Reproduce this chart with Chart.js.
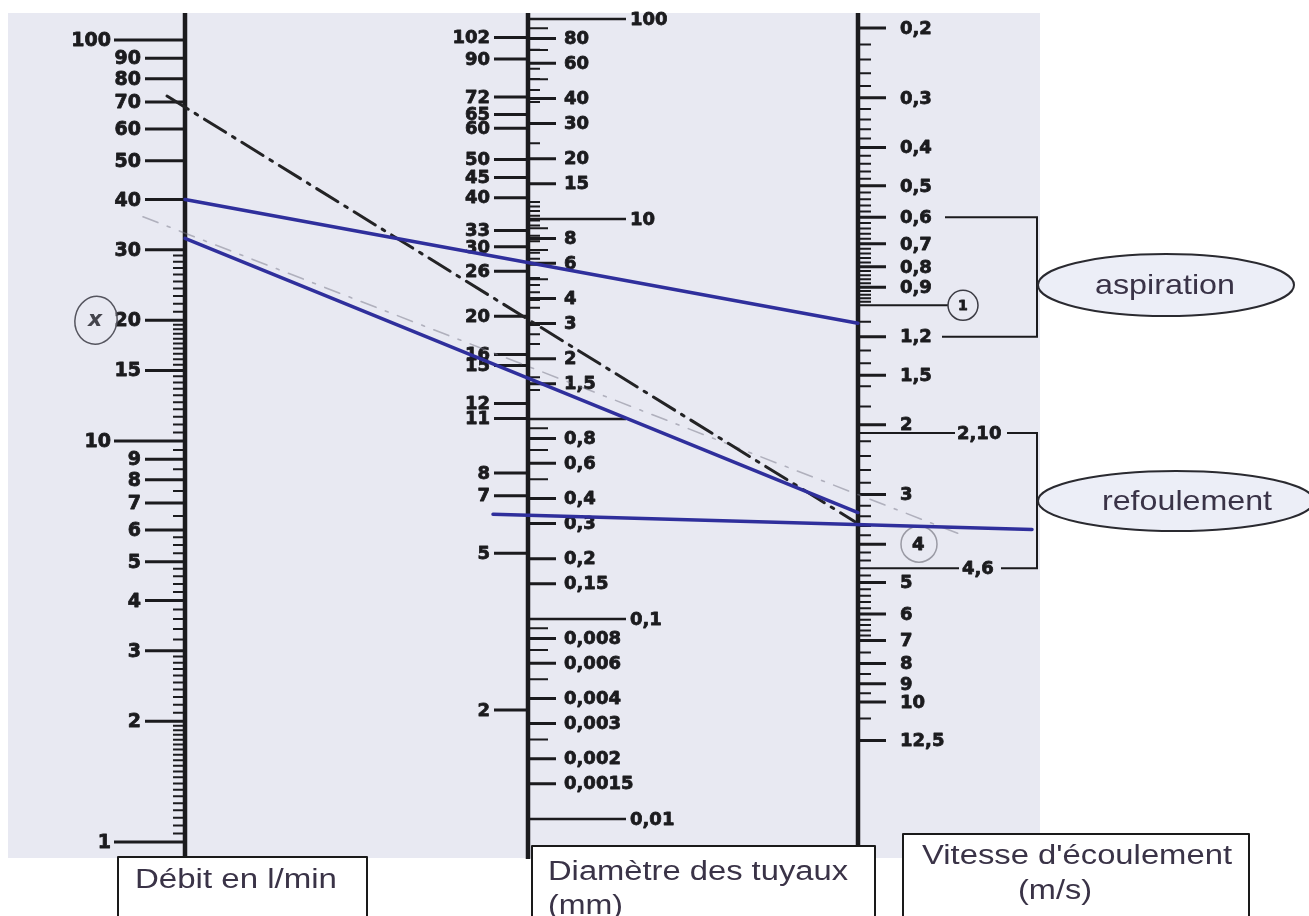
<!DOCTYPE html>
<html>
<head>
<meta charset="utf-8">
<title>Abaque - diamètre des tuyaux</title>
<script src="https://cdn.jsdelivr.net/npm/chart.js"></script>
<style>
  html, body { margin: 0; padding: 0; background: #fff; }
  canvas { display: block; }
</style>
</head>
<body>
<canvas id="abaque" width="1309" height="916"></canvas>
<script>
// Débit en l/min (colonne de gauche)
const debitValues = [100, 90, 80, 70, 60, 50, 40, 30, 20, 15, 10, 9, 8, 7, 6, 5, 4, 3, 2, 1];
const debitMajor = [100, 10, 1];
// Diamètre des tuyaux en mm (côté gauche de la colonne du milieu)
const diametreValues = [102, 90, 72, 65, 60, 50, 45, 40, 33, 30, 26, 20, 16, 15, 12, 11, 8, 7, 5, 2];
// Section (côté droit de la colonne du milieu), étiquettes telles qu'imprimées
const sectionValues = [100, 80, 60, 40, 30, 20, 15, 10, 8, 6, 4, 3, 2, 1.5, 1, 0.8, 0.6, 0.4, 0.3, 0.2, 0.15, 0.1, 0.08, 0.06, 0.04, 0.03, 0.02, 0.015, 0.01];
const sectionLabels = ['100', '80', '60', '40', '30', '20', '15', '10', '8', '6', '4', '3', '2', '1,5', '', '0,8', '0,6', '0,4', '0,3', '0,2', '0,15', '0,1', '0,008', '0,006', '0,004', '0,003', '0,002', '0,0015', '0,01'];
const sectionMajor = [100, 10, 1, 0.1, 0.01];
const sectionMinor = [90, 70, 50, 9, 7, 5, 0.9, 0.7, 0.5, 0.09, 0.07, 0.05, 0.025];
// Vitesse d'écoulement en m/s (colonne de droite)
const vitesseValues = [0.2, 0.3, 0.4, 0.5, 0.6, 0.7, 0.8, 0.9, 1, 1.2, 1.5, 2, 2.1, 3, 4, 4.6, 5, 6, 7, 8, 9, 10, 12.5];
const vitesseLabels = ['0,2', '0,3', '0,4', '0,5', '0,6', '0,7', '0,8', '0,9', '1', '1,2', '1,5', '2', '2,10', '3', '4', '4,6', '5', '6', '7', '8', '9', '10', '12,5'];
const aspiration = [0.6, 1.2];
const refoulement = [2.1, 4.6];

// tracés de lecture : [échelle, valeur] au départ et à l'arrivée
const traceAspiration = [['debit', 40], ['vitesse', 1.11]];
const traceRefoulement = [['debit', 32], ['vitesse', 3.33]];
const traceSection = [['section', 0.33], ['vitesse', 3.57]];
const traceMixte = [['debit', 68], ['vitesse', 3.55]];
const traceGris = [['debit', 33], ['vitesse', 3.0]];

// ---- mise en page ----
const W = 1309, H = 916;
const ink = '#1b1b1e';
const paper = '#e8e9f2';
const blue = '#2f2f9c';
const textInk = '#3a3347';
const colX = { debit: 185, milieu: 528, vitesse: 858 };
const columnOf = { debit: colX.debit, diametre: colX.milieu, section: colX.milieu, vitesse: colX.vitesse };
// deux repères (valeur, pixel) par échelle pour caler les axes log
const anchors = {
  debit: [[1, 842], [100, 40]],
  diametre: [[2, 719], [102, 38]],
  section: [[0.01, 819], [100, 19]],
  vitesse: [[0.2, 28], [10, 702]]
};

function fit(name) {
  const [[v1, y1], [v2, y2]] = anchors[name];
  const b = (y2 - y1) / (Math.log10(v2) - Math.log10(v1));
  return { a: y1 - b * Math.log10(v1), b };
}
function axisFor(name) {
  const { a, b } = fit(name);
  const top = -a / b, bottom = (H - a) / b;
  return {
    type: 'logarithmic', axis: 'y', display: false,
    min: Math.pow(10, Math.min(top, bottom)),
    max: Math.pow(10, Math.max(top, bottom)),
    reverse: b > 0
  };
}
function valueAt(name, y) {
  const { a, b } = fit(name);
  return Math.pow(10, (y - a) / b);
}
function graduation(from, to, step, skip) {
  const out = [];
  for (let v = from; v <= to + 1e-9; v += step) {
    const r = Math.round(v * 1000) / 1000;
    if (!skip.includes(r)) out.push(r);
  }
  return out;
}

const debitMinor = [].concat(
  graduation(1.05, 1.95, 0.05, []), graduation(2.1, 2.9, 0.1, []),
  [3.2, 3.4, 3.6, 3.8, 4.2, 4.4, 4.6, 4.8, 5.25, 5.5, 5.75, 6.5, 7.5, 8.5, 9.5],
  graduation(10.5, 19.5, 0.5, [15]), graduation(21, 29, 1, [])
);
const diametreMinor = [].concat(graduation(12, 40, 1, diametreValues), [95, 85, 80, 75, 70, 55]);
const vitesseMinor = [].concat(
  graduation(0.22, 0.98, 0.02, [0.3, 0.4, 0.5, 0.6, 0.7, 0.8, 0.9]),
  [1.1, 1.3, 1.4, 1.6, 1.8, 2.2, 2.4, 2.6, 2.8, 3.2, 3.4, 3.6, 3.8, 4.2, 4.4, 4.8],
  graduation(5.2, 6.8, 0.2, [6]), [7.5, 8.5, 9.5, 11]
);

function marks(values, yAxisID, x0, x1, width) {
  const data = [];
  values.forEach(v => data.push({ x: x0, y: v }, { x: x1, y: v }, { x: x1, y: null }));
  return { data, yAxisID, showLine: true, spanGaps: false, borderColor: ink, borderWidth: width, pointRadius: 0 };
}
function path(points, yAxisID, width) {
  return { data: points.map(p => ({ x: p[0], y: p[1] })), yAxisID, showLine: true, borderColor: ink, borderWidth: width, pointRadius: 0 };
}
function axisLine(name, x) {
  return path([[x, valueAt(name, 13)], [x, valueAt(name, 859)]], name, 4.5);
}

const datasets = [
  axisLine('debit', colX.debit),
  axisLine('section', colX.milieu),
  axisLine('vitesse', colX.vitesse),
  marks(debitValues.filter(v => !debitMajor.includes(v)), 'debit', 145, colX.debit, 3),
  marks(debitMajor, 'debit', 114, colX.debit, 3),
  marks(debitMinor, 'debit', 173, colX.debit, 2),
  marks(diametreValues, 'diametre', 494, colX.milieu, 3),
  marks(diametreMinor, 'diametre', 526, 540, 2),
  marks(sectionValues.filter(v => !sectionMajor.includes(v)), 'section', colX.milieu, 556, 3),
  marks(sectionMajor, 'section', colX.milieu, 626, 2.5),
  marks(sectionMinor, 'section', colX.milieu, 548, 2),
  marks(vitesseValues.filter(v => ![1, 2.1, 4.6].includes(v)), 'vitesse', colX.vitesse, 886, 3),
  marks(vitesseMinor, 'vitesse', colX.vitesse, 871, 2),
  marks([1], 'vitesse', colX.vitesse, 948, 2),
  marks([2.1], 'vitesse', colX.vitesse, 955, 2),
  marks([4.6], 'vitesse', colX.vitesse, 959, 2),
  path([[945, aspiration[0]], [1037, aspiration[0]], [1037, aspiration[1]], [942, aspiration[1]]], 'vitesse', 2),
  path([[1007, refoulement[0]], [1037, refoulement[0]], [1037, refoulement[1]], [1001, refoulement[1]]], 'vitesse', 2)
];

const traceStyles = [
  { trace: traceGris, color: 'rgba(120,120,135,0.5)', width: 1.6, dash: [16, 10, 3, 10], extend: [42, 107] },
  { trace: traceMixte, color: '#232325', width: 3, dash: [25, 8, 3, 8], extend: [18, -3] },
  { trace: traceAspiration, color: blue, width: 3.5, dash: [], extend: [0, 0] },
  { trace: traceRefoulement, color: blue, width: 3.5, dash: [], extend: [0, 0] },
  { trace: traceSection, color: blue, width: 3.5, dash: [], extend: [35, 174] }
];

function stretchText(ctx, text, x, y, width) {
  const w = ctx.measureText(text).width;
  ctx.save();
  ctx.translate(x, y);
  ctx.scale(width / w, 1);
  ctx.fillText(text, 0, 0);
  ctx.restore();
}
function heavyText(ctx, text, x, y) {
  ctx.strokeText(text, x, y);
  ctx.fillText(text, x, y);
}

const decor = {
  id: 'decor',
  beforeDraw(chart) {
    const { ctx } = chart;
    ctx.save();
    ctx.fillStyle = '#ffffff';
    ctx.fillRect(0, 0, W, H);
    ctx.fillStyle = paper;
    ctx.fillRect(8, 13, 1032, 845);
    ctx.restore();
  },
  afterDatasetsDraw(chart) {
    const { ctx, scales } = chart;
    const xs = scales.x;
    ctx.save();
    ctx.fillStyle = ink;
    ctx.strokeStyle = ink;
    ctx.lineWidth = 0.8;
    ctx.lineJoin = 'round';
    ctx.textBaseline = 'middle';
    ctx.font = 'bold 19px "DejaVu Sans"';

    // graduations chiffrées
    ctx.textAlign = 'right';
    debitValues.forEach(v => {
      heavyText(ctx, String(v), debitMajor.includes(v) ? 111 : 141, scales.debit.getPixelForValue(v) + 1);
    });
    ctx.font = 'bold 18px "DejaVu Sans"';
    diametreValues.forEach(v => heavyText(ctx, String(v), 490, scales.diametre.getPixelForValue(v) + 1));
    ctx.textAlign = 'left';
    sectionValues.forEach((v, i) => {
      if (!sectionLabels[i]) return;
      const x = sectionMajor.includes(v) ? 630 : 564;
      heavyText(ctx, sectionLabels[i], x, scales.section.getPixelForValue(v) + 1);
    });
    const vitesseLabelX = { 1: 958, 2.1: 957, 4.6: 962, 4: 912 };
    vitesseValues.forEach((v, i) => {
      const x = vitesseLabelX[v] || 900;
      ctx.font = v === 1 ? 'bold 14px "DejaVu Sans"' : 'bold 18px "DejaVu Sans"';
      heavyText(ctx, vitesseLabels[i], x, scales.vitesse.getPixelForValue(v) + 1);
    });

    // cercles de repère
    ctx.lineWidth = 1.5;
    ctx.strokeStyle = '#3c3c44';
    ctx.beginPath();
    ctx.arc(963, scales.vitesse.getPixelForValue(1), 15, 0, Math.PI * 2);
    ctx.stroke();
    ctx.strokeStyle = 'rgba(90,90,100,0.55)';
    ctx.beginPath();
    ctx.arc(919, scales.vitesse.getPixelForValue(4), 18, 0, Math.PI * 2);
    ctx.stroke();
    ctx.strokeStyle = '#55555f';
    ctx.beginPath();
    ctx.ellipse(96, scales.debit.getPixelForValue(20), 21, 24, 0.2, 0, Math.PI * 2);
    ctx.stroke();
    ctx.fillStyle = '#44444c';
    ctx.font = 'italic bold 22px "DejaVu Sans"';
    ctx.textAlign = 'center';
    ctx.fillText('x', 95, scales.debit.getPixelForValue(20));

    // tracés
    traceStyles.forEach(s => {
      const [[n1, v1], [n2, v2]] = s.trace;
      const x1 = xs.getPixelForValue(columnOf[n1]), y1 = scales[n1].getPixelForValue(v1);
      const x2 = xs.getPixelForValue(columnOf[n2]), y2 = scales[n2].getPixelForValue(v2);
      const k = (y2 - y1) / (x2 - x1);
      ctx.beginPath();
      ctx.setLineDash(s.dash);
      ctx.strokeStyle = s.color;
      ctx.lineWidth = s.width;
      ctx.lineCap = 'round';
      ctx.moveTo(x1 - s.extend[0], y1 - k * s.extend[0]);
      ctx.lineTo(x2 + s.extend[1], y2 + k * s.extend[1]);
      ctx.stroke();
    });
    ctx.setLineDash([]);
    ctx.lineCap = 'butt';

    // bulles aspiration / refoulement
    ctx.font = '28px "Liberation Sans"';
    ctx.textAlign = 'left';
    [
      { text: 'aspiration', cx: 1166, cy: 285, rx: 128, ry: 31, tx: 1095, tw: 140 },
      { text: 'refoulement', cx: 1176, cy: 501, rx: 138, ry: 30, tx: 1102, tw: 170 }
    ].forEach(b => {
      ctx.beginPath();
      ctx.ellipse(b.cx, b.cy, b.rx, b.ry, 0, 0, Math.PI * 2);
      ctx.fillStyle = '#eceef7';
      ctx.fill();
      ctx.lineWidth = 2;
      ctx.strokeStyle = '#2a2a30';
      ctx.stroke();
      ctx.fillStyle = textInk;
      stretchText(ctx, b.text, b.tx, b.cy + 1, b.tw);
    });

    // cartouches du bas
    ctx.font = '27px "Liberation Sans"';
    [
      { x: 118, y: 857, w: 249, lines: [['Débit en l/min', 135, 881, 202]] },
      { x: 532, y: 846, w: 343, lines: [['Diamètre des tuyaux', 548, 873, 300], ['(mm)', 548, 907, 75]] },
      { x: 903, y: 834, w: 346, lines: [["Vitesse d'écoulement", 922, 857, 310], ['(m/s)', 1018, 892, 74]] }
    ].forEach(b => {
      ctx.fillStyle = '#ffffff';
      ctx.fillRect(b.x, b.y, b.w, 120);
      ctx.lineWidth = 2;
      ctx.strokeStyle = '#1a1a1a';
      ctx.strokeRect(b.x, b.y, b.w, 120);
      ctx.fillStyle = textInk;
      b.lines.forEach(l => stretchText(ctx, l[0], l[1], l[2], l[3]));
    });
    ctx.restore();
  }
};

new Chart(document.getElementById('abaque'), {
  type: 'scatter',
  data: { datasets },
  options: {
    responsive: false,
    animation: false,
    layout: { padding: 0 },
    plugins: { legend: { display: false }, tooltip: { enabled: false } },
    scales: {
      x: { type: 'linear', display: false, min: 0, max: W },
      debit: axisFor('debit'),
      diametre: axisFor('diametre'),
      section: axisFor('section'),
      vitesse: axisFor('vitesse')
    }
  },
  plugins: [decor]
});
</script>
</body>
</html>
